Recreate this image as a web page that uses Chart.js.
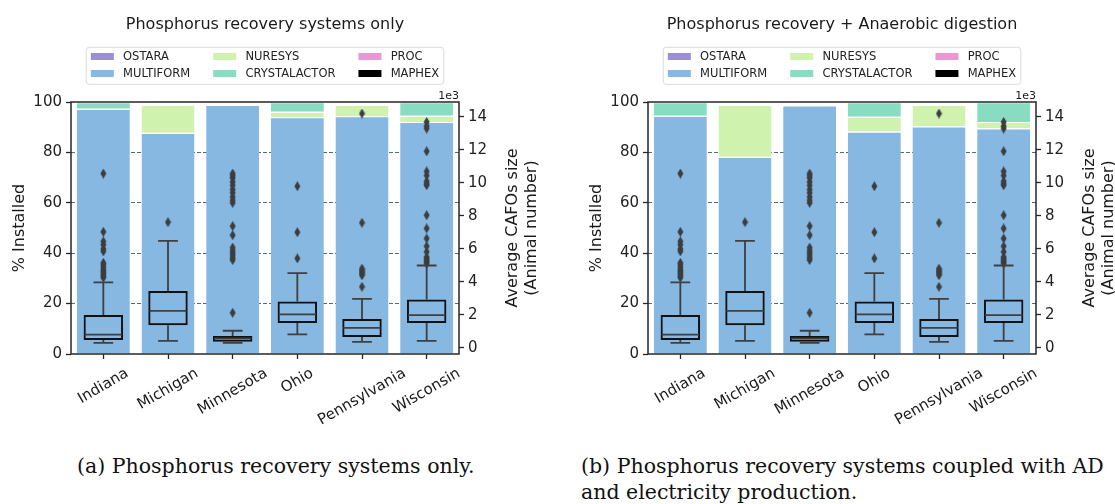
<!DOCTYPE html>
<html>
<head>
<meta charset="utf-8">
<script src="https://cdn.jsdelivr.net/npm/chart.js@4.4.1/dist/chart.umd.min.js"></script>
<style>
	body { margin: 0; background: #fff; width: 1115px; height: 504px; overflow: hidden; position: relative; }
	canvas { position: absolute; top: 0; }
	#chartA { left: 0; }
	#chartB { left: 577px; }
	.caption { position: absolute; font-family: 'DejaVu Serif', serif; font-size: 20.5px; color: #111; white-space: nowrap; line-height: 26px; }
</style>
</head>
<body>
<canvas id="chartA" width="557" height="440"></canvas>
<canvas id="chartB" width="538" height="440"></canvas>
<div class="caption" style="left:77px; top:453px;">(a) Phosphorus recovery systems only.</div>
<div class="caption" style="left:581px; top:453px;">(b) Phosphorus recovery systems coupled with AD<br>and electricity production.</div>
<script>
const states = ['Indiana', 'Michigan', 'Minnesota', 'Ohio', 'Pennsylvania', 'Wisconsin'];
const systems = ['OSTARA', 'MULTIFORM', 'NURESYS', 'CRYSTALACTOR', 'PROC', 'MAPHEX'];
const systemColors = ['#9d8fd7', '#86b8e2', '#cff2ae', '#88dcc1', '#e899d5', '#000000'];

// % installed - phosphorus recovery systems only
const prOstara = [0, 0, 0, 0, 0, 0];
const prMultiform = [97.3, 87.8, 98.9, 94.0, 94.4, 92.1];
const prNuresys = [0, 11.1, 0, 2.1, 4.5, 2.4];
const prCrystalactor = [2.7, 0, 0, 3.9, 0, 5.5];
const prProc = [0, 0, 0, 0, 0, 0];
const prMaphex = [0, 0, 0, 0, 0, 0];

// % installed - phosphorus recovery + anaerobic digestion
const adOstara = [0, 0, 0, 0, 0, 0];
const adMultiform = [94.5, 78.3, 98.7, 88.3, 90.4, 89.6];
const adNuresys = [0, 20.6, 0, 5.8, 8.5, 2.5];
const adCrystalactor = [5.5, 0, 0, 5.9, 0, 7.9];
const adProc = [0, 0, 0, 0, 0, 0];
const adMaphex = [0, 0, 0, 0, 0, 0];

// CAFO size distribution (x 1e3 animals)
const whiskerLow = [0.30, 0.42, 0.30, 0.81, 0.35, 0.42];
const q1 = [0.47, 1.36, 0.36, 1.50, 0.65, 1.50];
const median = [0.79, 2.24, 0.57, 2.02, 1.21, 1.98];
const q3 = [1.98, 3.44, 0.71, 2.81, 1.74, 2.93];
const whiskerHigh = [3.96, 6.48, 1.03, 4.53, 2.97, 4.99];
const outliers = [
	[4.25, 4.35, 4.45, 4.55, 4.65, 4.75, 4.9, 5.05, 5.15, 5.85, 6.0, 6.25, 6.45, 7.03, 10.57],
	[7.62],
	[2.12, 5.32, 5.45, 5.6, 5.75, 5.9, 6.08, 6.83, 7.38, 8.79, 8.95, 9.15, 9.4, 9.6, 9.85, 10.06, 10.3, 10.45, 10.57],
	[5.42, 7.01, 9.80],
	[3.70, 4.40, 4.50, 4.60, 4.70, 4.80, 7.58, 14.21],
	[5.1, 5.2, 5.3, 5.4, 5.5, 5.82, 6.16, 6.63, 7.24, 8.04, 9.86, 9.95, 10.1, 10.45, 10.7, 11.92, 13.30, 13.45, 13.70],
];
const pctTicks = { min: 0, max: 100, step: 20 };
const sizeTicks = { min: -0.38, max: 14.91, step: 2 };

Chart.defaults.font.family = 'DejaVu Sans';
Chart.defaults.color = '#222';

// thin diamond marker like seaborn's 'd'
const diamond = document.createElement('canvas');
diamond.width = 7;
diamond.height = 10;
const dc = diamond.getContext('2d');
dc.fillStyle = '#3d3d3d';
dc.beginPath();
dc.moveTo(3.5, 0);
dc.lineTo(6.5, 5);
dc.lineTo(3.5, 10);
dc.lineTo(0.5, 5);
dc.closePath();
dc.fill();

const decor = {
	id: 'decor',
	afterDatasetsDraw(chart) {
		const { ctx, scales: { x, y2 } } = chart;
		const step = x.getPixelForValue(1) - x.getPixelForValue(0);
		ctx.save();
		ctx.strokeStyle = '#3f3f3f';
		ctx.lineWidth = 1.8;
		states.forEach((s, i) => {
			const cx = x.getPixelForValue(i);
			const half = step * 0.305;
			const cap = half / 2;
			const yLo = y2.getPixelForValue(whiskerLow[i]);
			const yHi = y2.getPixelForValue(whiskerHigh[i]);
			const yMed = y2.getPixelForValue(median[i]);
			ctx.beginPath();
			ctx.moveTo(cx, y2.getPixelForValue(q1[i]));
			ctx.lineTo(cx, yLo);
			ctx.moveTo(cx, y2.getPixelForValue(q3[i]));
			ctx.lineTo(cx, yHi);
			ctx.moveTo(cx - cap, yLo);
			ctx.lineTo(cx + cap, yLo);
			ctx.moveTo(cx - cap, yHi);
			ctx.lineTo(cx + cap, yHi);
			ctx.moveTo(cx - half + 1, yMed);
			ctx.lineTo(cx + half - 1, yMed);
			ctx.stroke();
		});
		ctx.restore();
	},
	afterDraw(chart, args, opts) {
		const { ctx, chartArea: a, scales: { x } } = chart;
		const mid = (a.left + a.right) / 2;
		ctx.save();

		// frame
		ctx.strokeStyle = '#262626';
		ctx.lineWidth = 1.5;
		ctx.strokeRect(a.left, a.top, a.right - a.left, a.bottom - a.top);

		// title
		ctx.fillStyle = '#1a1a1a';
		ctx.font = '16px "DejaVu Sans"';
		ctx.textAlign = 'center';
		ctx.textBaseline = 'middle';
		ctx.fillText(opts.title, mid, 25);

		// legend, 3 columns x 2 rows
		const fs = 11.5;
		ctx.font = fs + 'px "DejaVu Sans"';
		const cols = [[0, 1], [2, 3], [4, 5]];
		const colW = cols.map((c) => 2.8 * fs + Math.max(...c.map((k) => ctx.measureText(systems[k]).width)));
		const lw = 0.8 * fs + colW.reduce((p, v) => p + v, 0) + 4 * fs;
		const lx = mid - lw / 2;
		ctx.beginPath();
		ctx.roundRect(lx, 47.3, lw, 37, 3);
		ctx.fillStyle = 'rgba(255,255,255,0.8)';
		ctx.fill();
		ctx.strokeStyle = '#d9d9d9';
		ctx.lineWidth = 1;
		ctx.stroke();
		ctx.textAlign = 'left';
		let cx = lx + 0.4 * fs;
		cols.forEach((c, ci) => {
			c.forEach((k, ri) => {
				const ry = ri === 0 ? 56.5 : 73.5;
				ctx.fillStyle = systemColors[k];
				ctx.fillRect(cx, ry - 3.5, 2 * fs, 7);
				ctx.fillStyle = '#222';
				ctx.fillText(systems[k], cx + 2.8 * fs, ry + 0.5);
			});
			cx += colW[ci] + 2 * fs;
		});

		// axis titles
		ctx.font = '16px "DejaVu Sans"';
		ctx.textAlign = 'center';
		ctx.fillStyle = '#1a1a1a';
		const ym = (a.top + a.bottom) / 2;
		[['% Installed', a.left - 51], ['Average CAFOs size', a.right + 54], ['(Animal number)', a.right + 72.5]].forEach(([t, tx]) => {
			ctx.save();
			ctx.translate(tx, ym);
			ctx.rotate(-Math.PI / 2);
			ctx.fillText(t, 0, 0);
			ctx.restore();
		});

		// rotated category labels, centred on the ticks
		ctx.font = '15px "DejaVu Sans"';
		const ang = Math.PI / 6;
		states.forEach((s, i) => {
			const w = ctx.measureText(s).width;
			const h = 17;
			const bh = w * Math.sin(ang) + h * Math.cos(ang);
			ctx.save();
			ctx.translate(x.getPixelForValue(i), a.bottom + 11 + bh / 2);
			ctx.rotate(-ang);
			ctx.fillText(s, 0, 0);
			ctx.restore();
		});

		// offset text of the size axis
		ctx.font = '11px "DejaVu Sans"';
		ctx.textAlign = 'right';
		ctx.textBaseline = 'alphabetic';
		ctx.fillText('1e3', a.right, a.top - 3);
		ctx.restore();
	},
};

function makeChart(id, title, series) {
	const canvas = document.getElementById(id);
	const W = canvas.width;
	const H = canvas.height;
	const bars = systems.map((name, k) => ({
		type: 'bar',
		label: name,
		data: series[k],
		yAxisID: 'y',
		stack: 'pct',
		backgroundColor: systemColors[k],
		borderColor: '#ffffff',
		borderWidth: { top: 1.2, left: 0, right: 0, bottom: 0 },
		barPercentage: 0.82,
		categoryPercentage: 1,
		order: 3,
	}));
	const boxes = {
		type: 'bar',
		label: 'box',
		data: q1.map((v, i) => [v, q3[i]]),
		yAxisID: 'y2',
		grouped: false,
		backgroundColor: 'rgba(0,0,0,0)',
		borderColor: '#111111',
		borderWidth: 2,
		borderSkipped: false,
		barPercentage: 0.61,
		categoryPercentage: 1,
		order: 1,
	};
	const fliers = {
		type: 'line',
		label: 'outliers',
		data: outliers.flatMap((list, i) => list.map((v) => ({ x: states[i], y: v }))),
		yAxisID: 'y2',
		showLine: false,
		pointStyle: diamond,
		pointRadius: 4,
		order: 0,
	};
	const tickStyle = { tickLength: 5, tickWidth: 1.3, tickColor: '#262626' };

	return new Chart(canvas, {
		type: 'bar',
		data: { labels: states, datasets: [...bars, boxes, fliers] },
		options: {
			responsive: false,
			animation: false,
			devicePixelRatio: 1,
			layout: { padding: { top: 102, left: 0, right: 0, bottom: 0 } },
			plugins: {
				legend: { display: false },
				tooltip: { enabled: false },
				decor: { title: title },
			},
			scales: {
				x: {
					stacked: true,
					offset: true,
					ticks: { display: false },
					grid: { drawOnChartArea: false, offset: false, ...tickStyle },
					border: { display: false },
					afterFit: (s) => { s.height = H - 354; },
				},
				y: {
					position: 'left',
					stacked: true,
					min: pctTicks.min,
					max: pctTicks.max,
					z: 1,
					ticks: { stepSize: pctTicks.step, font: { size: 15 }, padding: 4, color: '#222' },
					grid: {
						color: (c) => (c.tick && (c.tick.value === 0 || c.tick.value === 100) ? 'rgba(0,0,0,0)' : 'rgba(40,70,70,0.8)'),
						lineWidth: 1,
						...tickStyle,
					},
					border: { display: false, dash: [4, 2] },
					afterFit: (s) => { s.width = 71; },
				},
				y2: {
					position: 'right',
					min: sizeTicks.min,
					max: sizeTicks.max,
					ticks: { stepSize: sizeTicks.step, includeBounds: false, font: { size: 15 }, padding: 4, color: '#222' },
					grid: { drawOnChartArea: false, ...tickStyle },
					border: { display: false },
					afterFit: (s) => { s.width = W - 459; },
				},
			},
		},
		plugins: [decor],
	});
}

makeChart('chartA', 'Phosphorus recovery systems only',
	[prOstara, prMultiform, prNuresys, prCrystalactor, prProc, prMaphex]);
makeChart('chartB', 'Phosphorus recovery + Anaerobic digestion',
	[adOstara, adMultiform, adNuresys, adCrystalactor, adProc, adMaphex]);
</script>
</body>
</html>
